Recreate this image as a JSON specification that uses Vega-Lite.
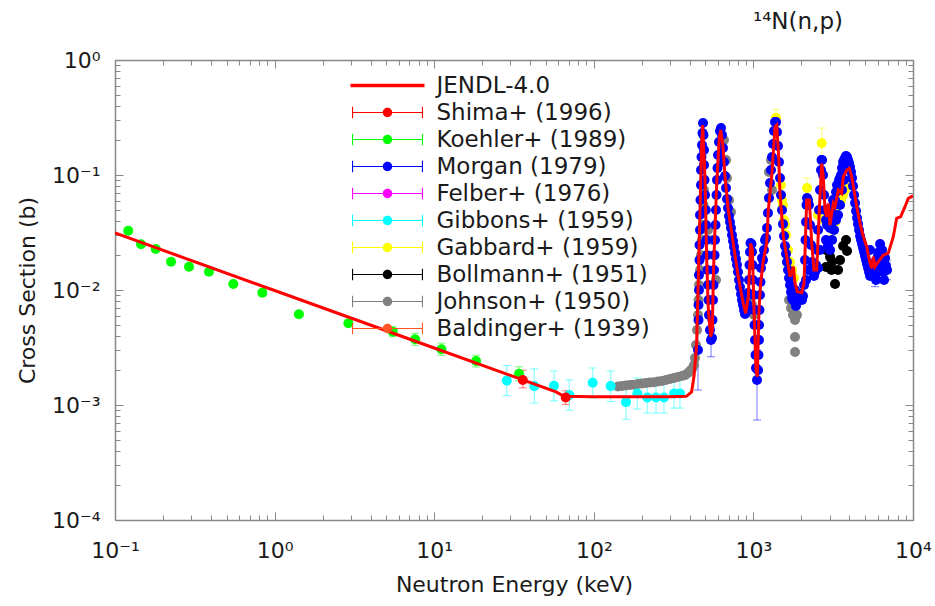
{
"$schema":"https://vega.github.io/schema/vega-lite/v6.json",
"width":798,"height":460,
"autosize":{"type":"none"},
"padding":{"left":115,"top":60,"right":22,"bottom":86},
"background":"white",
"title":{"text":"¹⁴N(n,p)","anchor":"end","frame":"group","dx":-70,"dy":33,"offset":30,"baseline":"alphabetic","font":"DejaVu Sans","fontSize":23,"fontWeight":"normal","color":"#1a1a1a"},
"config":{"view":{"stroke":null}},
"datasets":{
"sets":[{"set":"JENDL-4.0"},{"set":"Shima+ (1996)"},{"set":"Koehler+ (1989)"},{"set":"Morgan (1979)"},{"set":"Felber+ (1976)"},{"set":"Gibbons+ (1959)"},{"set":"Gabbard+ (1959)"},{"set":"Bollmann+ (1951)"},{"set":"Johnson+ (1950)"},{"set":"Baldinger+ (1939)"}],
"jendl":[
{"E":0.1,"xs":0.0313},{"E":1,"xs":0.0099},{"E":10,"xs":0.00313},{"E":30,"xs":0.00181},{"E":58,"xs":0.0013},{"E":65,"xs":0.00119},{"E":100,"xs":0.00118},{"E":200,"xs":0.00118},{"E":300,"xs":0.00118},{"E":380,"xs":0.00119},{"E":410,"xs":0.0013},{"E":424,"xs":0.00176},{"E":435,"xs":0.00263},{"E":441,"xs":0.00346},{"E":452,"xs":0.013},{"E":463,"xs":0.0496},{"E":474,"xs":0.189},{"E":481,"xs":0.272},{"E":497,"xs":0.0966},{"E":510,"xs":0.0182},{"E":522,"xs":0.0067},{"E":540,"xs":0.00393},{"E":553,"xs":0.00449},{"E":561,"xs":0.013},{"E":575,"xs":0.0355},{"E":589,"xs":0.0847},{"E":612,"xs":0.215},{"E":624,"xs":0.246},{"E":642,"xs":0.189},{"E":664,"xs":0.0966},{"E":696,"xs":0.0496},{"E":748,"xs":0.0255},{"E":804,"xs":0.013},{"E":864,"xs":0.00766},{"E":895,"xs":0.00627},{"E":929,"xs":0.00875},{"E":962,"xs":0.0255},{"E":985,"xs":0.0223},{"E":1009,"xs":0.0067},{"E":1038,"xs":0.00201},{"E":1058,"xs":0.00176},{"E":1084,"xs":0.0067},{"E":1108,"xs":0.01105},{"E":1154,"xs":0.0182},{"E":1211,"xs":0.0255},{"E":1240,"xs":0.0496},{"E":1302,"xs":0.0966},{"E":1366,"xs":0.263},{"E":1400,"xs":0.272},{"E":1432,"xs":0.165},{"E":1468,"xs":0.0693},{"E":1540,"xs":0.0291},{"E":1617,"xs":0.0195},{"E":1696,"xs":0.01305},{"E":1779,"xs":0.01595},{"E":1823,"xs":0.01144},{"E":1885,"xs":0.00966},{"E":2008,"xs":0.00947},{"E":2075,"xs":0.01144},{"E":2158,"xs":0.0606},{"E":2241,"xs":0.0606},{"E":2319,"xs":0.0255},{"E":2397,"xs":0.0149},{"E":2492,"xs":0.0149},{"E":2588,"xs":0.0496},{"E":2679,"xs":0.126},{"E":2741,"xs":0.0966},{"E":2810,"xs":0.0496},{"E":2880,"xs":0.0434},{"E":2947,"xs":0.0567},{"E":3020,"xs":0.0367},{"E":3167,"xs":0.0567},{"E":3246,"xs":0.053},{"E":3404,"xs":0.0741},{"E":3576,"xs":0.0693},{"E":3659,"xs":0.0966},{"E":3843,"xs":0.1105},{"E":3991,"xs":0.1144},{"E":4130,"xs":0.0966},{"E":4269,"xs":0.0741},{"E":4439,"xs":0.053},{"E":4656,"xs":0.038},{"E":4883,"xs":0.0291},{"E":5128,"xs":0.0238},{"E":5325,"xs":0.0182},{"E":5511,"xs":0.01545},{"E":5640,"xs":0.0195},{"E":5780,"xs":0.01595},{"E":6061,"xs":0.0176},{"E":6515,"xs":0.0201},{"E":7002,"xs":0.0209},{"E":7526,"xs":0.0291},{"E":7904,"xs":0.042},{"E":8375,"xs":0.0434},{"E":8910,"xs":0.053},{"E":9344,"xs":0.0627},{"E":10000,"xs":0.066}],
"pts":[
{"set":"Johnson+ (1950)","E":141.8,"xs":0.00145},{"set":"Johnson+ (1950)","E":150.2,"xs":0.001463},{"set":"Johnson+ (1950)","E":159.1,"xs":0.00148},{"set":"Johnson+ (1950)","E":168.6,"xs":0.00149},{"set":"Johnson+ (1950)","E":178.6,"xs":0.0015},{"set":"Johnson+ (1950)","E":189.2,"xs":0.001524},{"set":"Johnson+ (1950)","E":200.4,"xs":0.00154},{"set":"Johnson+ (1950)","E":212.3,"xs":0.001553},{"set":"Johnson+ (1950)","E":224.9,"xs":0.00157},{"set":"Johnson+ (1950)","E":238.4,"xs":0.00158},{"set":"Johnson+ (1950)","E":252.6,"xs":0.0016},{"set":"Johnson+ (1950)","E":267.5,"xs":0.001617},{"set":"Johnson+ (1950)","E":283.5,"xs":0.00165},{"set":"Johnson+ (1950)","E":300.2,"xs":0.001683},{"set":"Johnson+ (1950)","E":318.1,"xs":0.001717},{"set":"Johnson+ (1950)","E":337,"xs":0.001752},{"set":"Johnson+ (1950)","E":356.9,"xs":0.001788},{"set":"Johnson+ (1950)","E":372.7,"xs":0.00182},{"set":"Johnson+ (1950)","E":389.2,"xs":0.0019},{"set":"Johnson+ (1950)","E":400.6,"xs":0.001977},{"set":"Johnson+ (1950)","E":412.3,"xs":0.002057},{"set":"Johnson+ (1950)","E":424.4,"xs":0.00223},{"set":"Johnson+ (1950)","E":430.7,"xs":0.00256},{"set":"Johnson+ (1950)","E":436.9,"xs":0.00332},{"set":"Johnson+ (1950)","E":443.3,"xs":0.00449},{"set":"Johnson+ (1950)","E":449.7,"xs":0.00606},{"set":"Johnson+ (1950)","E":453,"xs":0.00819},{"set":"Johnson+ (1950)","E":456.3,"xs":0.01105},{"set":"Johnson+ (1950)","E":462.9,"xs":0.0149},{"set":"Johnson+ (1950)","E":469.6,"xs":0.0201},{"set":"Johnson+ (1950)","E":476.5,"xs":0.0272},{"set":"Johnson+ (1950)","E":483.4,"xs":0.0367},{"set":"Johnson+ (1950)","E":486.9,"xs":0.0548},{"set":"Johnson+ (1950)","E":490.4,"xs":0.0741},{"set":"Johnson+ (1950)","E":504.8,"xs":0.0496},{"set":"Johnson+ (1950)","E":519.6,"xs":0.0332},{"set":"Johnson+ (1950)","E":550.4,"xs":0.0272},{"set":"Johnson+ (1950)","E":566.5,"xs":0.0201},{"set":"Johnson+ (1950)","E":583.1,"xs":0.0122},{"set":"Johnson+ (1950)","E":654.3,"xs":0.2015},{"set":"Johnson+ (1950)","E":673.5,"xs":0.135},{"set":"Johnson+ (1950)","E":683.3,"xs":0.0942},{"set":"Johnson+ (1950)","E":703.3,"xs":0.0606},{"set":"Johnson+ (1950)","E":723.9,"xs":0.0477},{"set":"Johnson+ (1950)","E":911.9,"xs":0.00819},{"set":"Johnson+ (1950)","E":938.6,"xs":0.0067},{"set":"Johnson+ (1950)","E":980.1,"xs":0.00741},{"set":"Johnson+ (1950)","E":1009,"xs":0.00606},{"set":"Johnson+ (1950)","E":1252,"xs":0.1062},{"set":"Johnson+ (1950)","E":1289,"xs":0.135},{"set":"Johnson+ (1950)","E":1308,"xs":0.0741},{"set":"Johnson+ (1950)","E":1672,"xs":0.00819},{"set":"Johnson+ (1950)","E":1721,"xs":0.00697},{"set":"Johnson+ (1950)","E":1771,"xs":0.00606},{"set":"Johnson+ (1950)","E":1823,"xs":0.00548},{"set":"Johnson+ (1950)","E":1876,"xs":0.00606},{"set":"Johnson+ (1950)","E":1823,"xs":0.0039},{"set":"Johnson+ (1950)","E":1823,"xs":0.00289},
{"set":"Bollmann+ (1951)","E":2852,"xs":0.0223},{"set":"Bollmann+ (1951)","E":2852,"xs":0.01585},{"set":"Bollmann+ (1951)","E":3021,"xs":0.0194},{"set":"Bollmann+ (1951)","E":3087,"xs":0.0149},{"set":"Bollmann+ (1951)","E":3110,"xs":0.0175},{"set":"Bollmann+ (1951)","E":3247,"xs":0.01128},{"set":"Bollmann+ (1951)","E":3391,"xs":0.0149},{"set":"Bollmann+ (1951)","E":3490,"xs":0.0182},{"set":"Bollmann+ (1951)","E":3645,"xs":0.0241},{"set":"Bollmann+ (1951)","E":3806,"xs":0.0272},{"set":"Bollmann+ (1951)","E":3861,"xs":0.0218},
{"set":"Gabbard+ (1959)","E":1386,"xs":0.315,"lo":0.27,"hi":0.37},{"set":"Gabbard+ (1959)","E":1489,"xs":0.0819},{"set":"Gabbard+ (1959)","E":1511,"xs":0.0606},{"set":"Gabbard+ (1959)","E":1533,"xs":0.0548},{"set":"Gabbard+ (1959)","E":1555,"xs":0.0406},{"set":"Gabbard+ (1959)","E":1578,"xs":0.0367},{"set":"Gabbard+ (1959)","E":1601,"xs":0.0301},{"set":"Gabbard+ (1959)","E":1648,"xs":0.0223},{"set":"Gabbard+ (1959)","E":1696,"xs":0.0175},{"set":"Gabbard+ (1959)","E":1746,"xs":0.0149},{"set":"Gabbard+ (1959)","E":1797,"xs":0.0127},{"set":"Gabbard+ (1959)","E":2168,"xs":0.0771,"lo":0.0631,"hi":0.094},{"set":"Gabbard+ (1959)","E":2541,"xs":0.0449},{"set":"Gabbard+ (1959)","E":2680,"xs":0.189,"lo":0.141,"hi":0.256},{"set":"Gabbard+ (1959)","E":2771,"xs":0.0406},{"set":"Gabbard+ (1959)","E":3065,"xs":0.0272},{"set":"Gabbard+ (1959)","E":3155,"xs":0.0332},{"set":"Gabbard+ (1959)","E":3247,"xs":0.039},{"set":"Gabbard+ (1959)","E":3342,"xs":0.0449},{"set":"Gabbard+ (1959)","E":3440,"xs":0.0548},{"set":"Gabbard+ (1959)","E":3541,"xs":0.0606},{"set":"Gabbard+ (1959)","E":3645,"xs":0.067},{"set":"Gabbard+ (1959)","E":3751,"xs":0.0741},{"set":"Gabbard+ (1959)","E":3861,"xs":0.0819},
{"set":"Gibbons+ (1959)","E":28.5,"xs":0.00163,"lo":0.00121,"hi":0.0022},{"set":"Gibbons+ (1959)","E":42.4,"xs":0.00146,"lo":0.00104,"hi":0.00206},{"set":"Gibbons+ (1959)","E":56.3,"xs":0.00147,"lo":0.00109,"hi":0.00198},{"set":"Gibbons+ (1959)","E":70.2,"xs":0.00122,"lo":0.0009,"hi":0.00165},{"set":"Gibbons+ (1959)","E":98.4,"xs":0.00156,"lo":0.00115,"hi":0.0021},{"set":"Gibbons+ (1959)","E":127.6,"xs":0.00146,"lo":0.00107,"hi":0.00198},{"set":"Gibbons+ (1959)","E":159.2,"xs":0.00106,"lo":0.00075,"hi":0.00142},{"set":"Gibbons+ (1959)","E":187.4,"xs":0.00126,"lo":0.00092,"hi":0.00172},{"set":"Gibbons+ (1959)","E":216.4,"xs":0.00116,"lo":0.00085,"hi":0.00158},{"set":"Gibbons+ (1959)","E":245.4,"xs":0.00116,"lo":0.00085,"hi":0.00158},{"set":"Gibbons+ (1959)","E":275.3,"xs":0.00116,"lo":0.00085,"hi":0.00158},{"set":"Gibbons+ (1959)","E":318.3,"xs":0.00126,"lo":0.00094,"hi":0.00168},{"set":"Gibbons+ (1959)","E":346.7,"xs":0.00126,"lo":0.00094,"hi":0.00168},
{"set":"Morgan (1979)","E":449.7,"xs":0.00301,"lo":0.00135,"hi":0.0045},{"set":"Morgan (1979)","E":453,"xs":0.00548},{"set":"Morgan (1979)","E":453,"xs":0.00741},{"set":"Morgan (1979)","E":456.3,"xs":0.01},{"set":"Morgan (1979)","E":456.3,"xs":0.0135},{"set":"Morgan (1979)","E":459.6,"xs":0.0182},{"set":"Morgan (1979)","E":459.6,"xs":0.0246},{"set":"Morgan (1979)","E":462.9,"xs":0.0332},{"set":"Morgan (1979)","E":462.9,"xs":0.0449},{"set":"Morgan (1979)","E":466.3,"xs":0.0606},{"set":"Morgan (1979)","E":469.6,"xs":0.0819},{"set":"Morgan (1979)","E":469.6,"xs":0.1105},{"set":"Morgan (1979)","E":473,"xs":0.1434},{"set":"Morgan (1979)","E":476.5,"xs":0.1823},{"set":"Morgan (1979)","E":479.9,"xs":0.2318},{"set":"Morgan (1979)","E":483.4,"xs":0.2833},{"set":"Morgan (1979)","E":486.9,"xs":0.223},{"set":"Morgan (1979)","E":490.4,"xs":0.165},{"set":"Morgan (1979)","E":490.4,"xs":0.122},{"set":"Morgan (1979)","E":494,"xs":0.0905},{"set":"Morgan (1979)","E":497.5,"xs":0.067},{"set":"Morgan (1979)","E":501.1,"xs":0.0496},{"set":"Morgan (1979)","E":504.8,"xs":0.0367},{"set":"Morgan (1979)","E":508.4,"xs":0.0272},{"set":"Morgan (1979)","E":512.1,"xs":0.0201},{"set":"Morgan (1979)","E":515.8,"xs":0.0149},{"set":"Morgan (1979)","E":519.6,"xs":0.01105},{"set":"Morgan (1979)","E":523.3,"xs":0.00819},{"set":"Morgan (1979)","E":527.1,"xs":0.00606},{"set":"Morgan (1979)","E":534.7,"xs":0.00449},{"set":"Morgan (1979)","E":542.5,"xs":0.00367,"lo":0.00263,"hi":0.0048},{"set":"Morgan (1979)","E":550.4,"xs":0.00383},{"set":"Morgan (1979)","E":554.4,"xs":0.00548},{"set":"Morgan (1979)","E":558.4,"xs":0.00819},{"set":"Morgan (1979)","E":562.4,"xs":0.01105},{"set":"Morgan (1979)","E":566.5,"xs":0.0149},{"set":"Morgan (1979)","E":570.6,"xs":0.0201},{"set":"Morgan (1979)","E":574.7,"xs":0.0272},{"set":"Morgan (1979)","E":578.9,"xs":0.0367},{"set":"Morgan (1979)","E":583.1,"xs":0.0496},{"set":"Morgan (1979)","E":587.3,"xs":0.067},{"set":"Morgan (1979)","E":591.5,"xs":0.0905},{"set":"Morgan (1979)","E":595.8,"xs":0.115},{"set":"Morgan (1979)","E":600.1,"xs":0.149},{"set":"Morgan (1979)","E":608.8,"xs":0.1936},{"set":"Morgan (1979)","E":617.7,"xs":0.2413},{"set":"Morgan (1979)","E":626.6,"xs":0.2563},{"set":"Morgan (1979)","E":635.7,"xs":0.223},{"set":"Morgan (1979)","E":645,"xs":0.1717},{"set":"Morgan (1979)","E":654.3,"xs":0.1298},{"set":"Morgan (1979)","E":663.9,"xs":0.098},{"set":"Morgan (1979)","E":673.5,"xs":0.0771},{"set":"Morgan (1979)","E":683.3,"xs":0.0618},{"set":"Morgan (1979)","E":693.2,"xs":0.0516},{"set":"Morgan (1979)","E":703.3,"xs":0.044},{"set":"Morgan (1979)","E":713.5,"xs":0.039},{"set":"Morgan (1979)","E":723.9,"xs":0.0346},{"set":"Morgan (1979)","E":734.4,"xs":0.0301},{"set":"Morgan (1979)","E":745.1,"xs":0.0267},{"set":"Morgan (1979)","E":755.9,"xs":0.0237},{"set":"Morgan (1979)","E":766.9,"xs":0.021},{"set":"Morgan (1979)","E":778,"xs":0.0186},{"set":"Morgan (1979)","E":789.3,"xs":0.0165},{"set":"Morgan (1979)","E":800.8,"xs":0.01434},{"set":"Morgan (1979)","E":812.5,"xs":0.0122},{"set":"Morgan (1979)","E":824.3,"xs":0.0106},{"set":"Morgan (1979)","E":836.3,"xs":0.00923},{"set":"Morgan (1979)","E":848.4,"xs":0.00819},{"set":"Morgan (1979)","E":860.7,"xs":0.00741},{"set":"Morgan (1979)","E":873.2,"xs":0.0067},{"set":"Morgan (1979)","E":885.9,"xs":0.00618},{"set":"Morgan (1979)","E":898.8,"xs":0.00644},{"set":"Morgan (1979)","E":911.9,"xs":0.00755},{"set":"Morgan (1979)","E":925.1,"xs":0.00942},{"set":"Morgan (1979)","E":938.6,"xs":0.0122},{"set":"Morgan (1979)","E":945.4,"xs":0.0165},{"set":"Morgan (1979)","E":952.2,"xs":0.0214},{"set":"Morgan (1979)","E":959.1,"xs":0.0256},{"set":"Morgan (1979)","E":973,"xs":0.0251},{"set":"Morgan (1979)","E":980.1,"xs":0.0214},{"set":"Morgan (1979)","E":987.2,"xs":0.0165},{"set":"Morgan (1979)","E":994.3,"xs":0.0122},{"set":"Morgan (1979)","E":1001.5,"xs":0.00905},{"set":"Morgan (1979)","E":1008.8,"xs":0.0067},{"set":"Morgan (1979)","E":1016.1,"xs":0.00496},{"set":"Morgan (1979)","E":1023.4,"xs":0.00367},{"set":"Morgan (1979)","E":1030.8,"xs":0.00272},{"set":"Morgan (1979)","E":1038.3,"xs":0.0021},{"set":"Morgan (1979)","E":1053.4,"xs":0.00165,"lo":0.00074,"hi":0.00301},{"set":"Morgan (1979)","E":1068.7,"xs":0.00201},{"set":"Morgan (1979)","E":1076.4,"xs":0.00272},{"set":"Morgan (1979)","E":1084.2,"xs":0.00367},{"set":"Morgan (1979)","E":1084.2,"xs":0.00496},{"set":"Morgan (1979)","E":1092,"xs":0.0067},{"set":"Morgan (1979)","E":1100,"xs":0.00905},{"set":"Morgan (1979)","E":1108,"xs":0.01174},{"set":"Morgan (1979)","E":1116,"xs":0.01553},{"set":"Morgan (1979)","E":1132,"xs":0.019},{"set":"Morgan (1979)","E":1149,"xs":0.0182},{"set":"Morgan (1979)","E":1165,"xs":0.0223},{"set":"Morgan (1979)","E":1182,"xs":0.0272},{"set":"Morgan (1979)","E":1199,"xs":0.0283},{"set":"Morgan (1979)","E":1217,"xs":0.0346},{"set":"Morgan (1979)","E":1234,"xs":0.0467},{"set":"Morgan (1979)","E":1252,"xs":0.0631},{"set":"Morgan (1979)","E":1271,"xs":0.0852},{"set":"Morgan (1979)","E":1289,"xs":0.1105},{"set":"Morgan (1979)","E":1308,"xs":0.1434},{"set":"Morgan (1979)","E":1327,"xs":0.186},{"set":"Morgan (1979)","E":1346,"xs":0.2413},{"set":"Morgan (1979)","E":1366,"xs":0.289},{"set":"Morgan (1979)","E":1386,"xs":0.289},{"set":"Morgan (1979)","E":1406,"xs":0.2365},{"set":"Morgan (1979)","E":1426,"xs":0.1788},{"set":"Morgan (1979)","E":1447,"xs":0.1298},{"set":"Morgan (1979)","E":1468,"xs":0.0942},{"set":"Morgan (1979)","E":1489,"xs":0.067},{"set":"Morgan (1979)","E":1511,"xs":0.0496},{"set":"Morgan (1979)","E":1533,"xs":0.0375},{"set":"Morgan (1979)","E":1555,"xs":0.0295},{"set":"Morgan (1979)","E":1578,"xs":0.0241},{"set":"Morgan (1979)","E":1601,"xs":0.0206},{"set":"Morgan (1979)","E":1624,"xs":0.0175},{"set":"Morgan (1979)","E":1648,"xs":0.0149},{"set":"Morgan (1979)","E":1672,"xs":0.0127},{"set":"Morgan (1979)","E":1696,"xs":0.01105},{"set":"Morgan (1979)","E":1721,"xs":0.00961},{"set":"Morgan (1979)","E":1746,"xs":0.00852},{"set":"Morgan (1979)","E":1771,"xs":0.00819},{"set":"Morgan (1979)","E":1797,"xs":0.00887},{"set":"Morgan (1979)","E":1823,"xs":0.00787},{"set":"Morgan (1979)","E":1849,"xs":0.00726},{"set":"Morgan (1979)","E":1876,"xs":0.00787},{"set":"Morgan (1979)","E":1904,"xs":0.00887},{"set":"Morgan (1979)","E":1931,"xs":0.00819},{"set":"Morgan (1979)","E":1959,"xs":0.00852},{"set":"Morgan (1979)","E":1988,"xs":0.00923},{"set":"Morgan (1979)","E":2017,"xs":0.00819},{"set":"Morgan (1979)","E":2046,"xs":0.00887},{"set":"Morgan (1979)","E":2076,"xs":0.01105},{"set":"Morgan (1979)","E":2106,"xs":0.0182},{"set":"Morgan (1979)","E":2121,"xs":0.0272},{"set":"Morgan (1979)","E":2137,"xs":0.039},{"set":"Morgan (1979)","E":2152,"xs":0.0548},{"set":"Morgan (1979)","E":2168,"xs":0.0631},{"set":"Morgan (1979)","E":2199,"xs":0.0606},{"set":"Morgan (1979)","E":2231,"xs":0.0548},{"set":"Morgan (1979)","E":2263,"xs":0.0367},{"set":"Morgan (1979)","E":2296,"xs":0.0246},{"set":"Morgan (1979)","E":2330,"xs":0.0175},{"set":"Morgan (1979)","E":2364,"xs":0.01434},{"set":"Morgan (1979)","E":2398,"xs":0.01324},{"set":"Morgan (1979)","E":2433,"xs":0.01434},{"set":"Morgan (1979)","E":2468,"xs":0.0165},{"set":"Morgan (1979)","E":2504,"xs":0.0223},{"set":"Morgan (1979)","E":2541,"xs":0.0332},{"set":"Morgan (1979)","E":2578,"xs":0.0496},{"set":"Morgan (1979)","E":2615,"xs":0.0741},{"set":"Morgan (1979)","E":2653,"xs":0.1105},{"set":"Morgan (1979)","E":2672,"xs":0.135},{"set":"Morgan (1979)","E":2692,"xs":0.135},{"set":"Morgan (1979)","E":2731,"xs":0.1},{"set":"Morgan (1979)","E":2771,"xs":0.067},{"set":"Morgan (1979)","E":2811,"xs":0.0496},{"set":"Morgan (1979)","E":2852,"xs":0.0406},{"set":"Morgan (1979)","E":2893,"xs":0.0367},{"set":"Morgan (1979)","E":2935,"xs":0.0496},{"set":"Morgan (1979)","E":2978,"xs":0.0449},{"set":"Morgan (1979)","E":3021,"xs":0.0346},{"set":"Morgan (1979)","E":3065,"xs":0.0367},{"set":"Morgan (1979)","E":3110,"xs":0.0477},{"set":"Morgan (1979)","E":3155,"xs":0.0606},{"set":"Morgan (1979)","E":3201,"xs":0.0548},{"set":"Morgan (1979)","E":3247,"xs":0.0606},{"set":"Morgan (1979)","E":3294,"xs":0.0711},{"set":"Morgan (1979)","E":3342,"xs":0.0819},{"set":"Morgan (1979)","E":3391,"xs":0.0771},{"set":"Morgan (1979)","E":3440,"xs":0.0905},{"set":"Morgan (1979)","E":3490,"xs":0.0942},{"set":"Morgan (1979)","E":3541,"xs":0.1},{"set":"Morgan (1979)","E":3592,"xs":0.115},{"set":"Morgan (1979)","E":3645,"xs":0.1298},{"set":"Morgan (1979)","E":3697,"xs":0.135},{"set":"Morgan (1979)","E":3751,"xs":0.1406},{"set":"Morgan (1979)","E":3806,"xs":0.1462},{"set":"Morgan (1979)","E":3861,"xs":0.1434},{"set":"Morgan (1979)","E":3917,"xs":0.135},{"set":"Morgan (1979)","E":3974,"xs":0.1272},{"set":"Morgan (1979)","E":4032,"xs":0.1174},{"set":"Morgan (1979)","E":4091,"xs":0.1062},{"set":"Morgan (1979)","E":4150,"xs":0.0942},{"set":"Morgan (1979)","E":4210,"xs":0.0802},{"set":"Morgan (1979)","E":4272,"xs":0.067},{"set":"Morgan (1979)","E":4334,"xs":0.0571},{"set":"Morgan (1979)","E":4397,"xs":0.0486},{"set":"Morgan (1979)","E":4461,"xs":0.0423},{"set":"Morgan (1979)","E":4525,"xs":0.0375},{"set":"Morgan (1979)","E":4591,"xs":0.0332},{"set":"Morgan (1979)","E":4658,"xs":0.0295},{"set":"Morgan (1979)","E":4726,"xs":0.0272},{"set":"Morgan (1979)","E":4795,"xs":0.0251},{"set":"Morgan (1979)","E":4864,"xs":0.0232},{"set":"Morgan (1979)","E":4935,"xs":0.0214},{"set":"Morgan (1979)","E":5007,"xs":0.0198},{"set":"Morgan (1979)","E":5080,"xs":0.0182},{"set":"Morgan (1979)","E":5153,"xs":0.0168},{"set":"Morgan (1979)","E":5228,"xs":0.01553},{"set":"Morgan (1979)","E":5304,"xs":0.01434},{"set":"Morgan (1979)","E":5381,"xs":0.01324},{"set":"Morgan (1979)","E":5460,"xs":0.01434},{"set":"Morgan (1979)","E":5539,"xs":0.01553},{"set":"Morgan (1979)","E":5620,"xs":0.0168},{"set":"Morgan (1979)","E":5701,"xs":0.01434},{"set":"Morgan (1979)","E":5784,"xs":0.01324,"lo":0.0107,"hi":0.0165},{"set":"Morgan (1979)","E":5868,"xs":0.0149},{"set":"Morgan (1979)","E":5954,"xs":0.0175},{"set":"Morgan (1979)","E":6040,"xs":0.0198},{"set":"Morgan (1979)","E":6128,"xs":0.0214},{"set":"Morgan (1979)","E":6217,"xs":0.019},{"set":"Morgan (1979)","E":6307,"xs":0.0175},{"set":"Morgan (1979)","E":6399,"xs":0.01553},{"set":"Morgan (1979)","E":6492,"xs":0.01434},{"set":"Morgan (1979)","E":6587,"xs":0.0175},{"set":"Morgan (1979)","E":6682,"xs":0.019},{"set":"Morgan (1979)","E":6780,"xs":0.0162},{"set":"Morgan (1979)","E":6878,"xs":0.0149,"lo":0.0123,"hi":0.018},{"set":"Morgan (1979)","E":2852,"xs":0.0272},{"set":"Morgan (1979)","E":2935,"xs":0.0246},{"set":"Morgan (1979)","E":3021,"xs":0.0223},{"set":"Morgan (1979)","E":3110,"xs":0.0272},{"set":"Morgan (1979)","E":3201,"xs":0.0332},{"set":"Morgan (1979)","E":3294,"xs":0.0406},{"set":"Morgan (1979)","E":3391,"xs":0.0449},{"set":"Morgan (1979)","E":3490,"xs":0.0548},{"set":"Morgan (1979)","E":3592,"xs":0.0741},{"set":"Morgan (1979)","E":3697,"xs":0.0905},{"set":"Morgan (1979)","E":2615,"xs":0.0223},{"set":"Morgan (1979)","E":2541,"xs":0.01553},{"set":"Morgan (1979)","E":2137,"xs":0.0122},{"set":"Morgan (1979)","E":2199,"xs":0.0149},{"set":"Morgan (1979)","E":1823,"xs":0.01},{"set":"Morgan (1979)","E":5381,"xs":0.0223},{"set":"Morgan (1979)","E":5868,"xs":0.0122},{"set":"Morgan (1979)","E":6399,"xs":0.0223},{"set":"Morgan (1979)","E":6587,"xs":0.0122},{"set":"Morgan (1979)","E":6217,"xs":0.0251},
{"set":"Koehler+ (1989)","E":0.121,"xs":0.0328},{"set":"Koehler+ (1989)","E":0.1456,"xs":0.025},{"set":"Koehler+ (1989)","E":0.18,"xs":0.0227},{"set":"Koehler+ (1989)","E":0.2244,"xs":0.0176},{"set":"Koehler+ (1989)","E":0.291,"xs":0.01595},{"set":"Koehler+ (1989)","E":0.388,"xs":0.01443},{"set":"Koehler+ (1989)","E":0.551,"xs":0.01128},{"set":"Koehler+ (1989)","E":0.838,"xs":0.00947},{"set":"Koehler+ (1989)","E":1.42,"xs":0.00615},{"set":"Koehler+ (1989)","E":2.9,"xs":0.00513},{"set":"Koehler+ (1989)","E":5.5,"xs":0.00434,"lo":0.00393,"hi":0.0048},{"set":"Koehler+ (1989)","E":7.59,"xs":0.00373,"lo":0.0033,"hi":0.0042},{"set":"Koehler+ (1989)","E":11.1,"xs":0.00305,"lo":0.0027,"hi":0.00345},{"set":"Koehler+ (1989)","E":18.3,"xs":0.00241,"lo":0.00214,"hi":0.00271},{"set":"Koehler+ (1989)","E":34,"xs":0.00187,"lo":0.00163,"hi":0.00215},
{"set":"Shima+ (1996)","E":35.9,"xs":0.00165,"lo":0.00141,"hi":0.00201},{"set":"Shima+ (1996)","E":66.7,"xs":0.00116,"lo":0.00101,"hi":0.00133}
]},
"encoding":{
"x":{"field":"E","type":"quantitative","scale":{"type":"log","domain":[0.1,10000],"nice":false},"axis":null},
"y":{"field":"xs","type":"quantitative","scale":{"type":"log","domain":[0.0001,1],"nice":false},"axis":null}
},
"layer":[
{"data":{"name":"sets"},
 "transform":[{"filter":"false"}],
 "mark":{"type":"point","filled":true,"opacity":0},
 "encoding":{
  "color":{"field":"set","type":"nominal","scale":{"domain":["JENDL-4.0","Shima+ (1996)","Koehler+ (1989)","Morgan (1979)","Felber+ (1976)","Gibbons+ (1959)","Gabbard+ (1959)","Bollmann+ (1951)","Johnson+ (1950)","Baldinger+ (1939)"],"range":["#ff0000","#ff0000","#00ff00","#0000ff","#ff00ff","#00ffff","#ffff00","#000000","#808080","#ff5522"]},
   "legend":{"orient":"none","legendX":225.5,"legendY":14,"title":null,"labelFont":"DejaVu Sans","labelFontSize":23,"labelColor":"#1a1a1a","symbolSize":400,"symbolOffset":35.5,"symbolStrokeWidth":0,"symbolOpacity":1,"rowPadding":3,"labelOffset":37.5,"padding":0,"labelLimit":400}},
  "shape":{"field":"set","type":"nominal","scale":{"domain":["JENDL-4.0","Shima+ (1996)","Koehler+ (1989)","Morgan (1979)","Felber+ (1976)","Gibbons+ (1959)","Gabbard+ (1959)","Bollmann+ (1951)","Johnson+ (1950)","Baldinger+ (1939)"],"range":["M-3.7,-0.165H3.7V0.165H-3.7Z","M-3.55,-0.06H3.55V0.06H-3.55ZM-3.55,-0.57H-3.44V0.57H-3.55ZM3.44,-0.57H3.55V0.57H3.44ZM0.47,0A0.47,0.47,0,1,1,-0.47,0A0.47,0.47,0,1,1,0.47,0Z","M-3.55,-0.06H3.55V0.06H-3.55ZM-3.55,-0.57H-3.44V0.57H-3.55ZM3.44,-0.57H3.55V0.57H3.44ZM0.47,0A0.47,0.47,0,1,1,-0.47,0A0.47,0.47,0,1,1,0.47,0Z","M-3.55,-0.06H3.55V0.06H-3.55ZM-3.55,-0.57H-3.44V0.57H-3.55ZM3.44,-0.57H3.55V0.57H3.44ZM0.47,0A0.47,0.47,0,1,1,-0.47,0A0.47,0.47,0,1,1,0.47,0Z","M-3.55,-0.06H3.55V0.06H-3.55ZM-3.55,-0.57H-3.44V0.57H-3.55ZM3.44,-0.57H3.55V0.57H3.44ZM0.47,0A0.47,0.47,0,1,1,-0.47,0A0.47,0.47,0,1,1,0.47,0Z","M-3.55,-0.06H3.55V0.06H-3.55ZM-3.55,-0.57H-3.44V0.57H-3.55ZM3.44,-0.57H3.55V0.57H3.44ZM0.47,0A0.47,0.47,0,1,1,-0.47,0A0.47,0.47,0,1,1,0.47,0Z","M-3.55,-0.06H3.55V0.06H-3.55ZM-3.55,-0.57H-3.44V0.57H-3.55ZM3.44,-0.57H3.55V0.57H3.44ZM0.47,0A0.47,0.47,0,1,1,-0.47,0A0.47,0.47,0,1,1,0.47,0Z","M-3.55,-0.06H3.55V0.06H-3.55ZM-3.55,-0.57H-3.44V0.57H-3.55ZM3.44,-0.57H3.55V0.57H3.44ZM0.47,0A0.47,0.47,0,1,1,-0.47,0A0.47,0.47,0,1,1,0.47,0Z","M-3.55,-0.06H3.55V0.06H-3.55ZM-3.55,-0.57H-3.44V0.57H-3.55ZM3.44,-0.57H3.55V0.57H3.44ZM0.47,0A0.47,0.47,0,1,1,-0.47,0A0.47,0.47,0,1,1,0.47,0Z","M-3.55,-0.06H3.55V0.06H-3.55ZM-3.55,-0.57H-3.44V0.57H-3.55ZM3.44,-0.57H3.55V0.57H3.44ZM0.47,0A0.47,0.47,0,1,1,-0.47,0A0.47,0.47,0,1,1,0.47,0Z","M-3.55,-0.06H3.55V0.06H-3.55ZM-3.55,-0.57H-3.44V0.57H-3.55ZM3.44,-0.57H3.55V0.57H3.44ZM0.47,0A0.47,0.47,0,1,1,-0.47,0A0.47,0.47,0,1,1,0.47,0Z"]},
   "legend":{"orient":"none","legendX":225.5,"legendY":14,"title":null,"labelFont":"DejaVu Sans","labelFontSize":23,"labelColor":"#1a1a1a","symbolSize":400,"symbolOffset":35.5,"symbolStrokeWidth":0,"symbolOpacity":1,"rowPadding":3,"labelOffset":37.5,"padding":0,"labelLimit":400}}
 }},
{"data":{"name":"pts"},
 "transform":[{"filter":"isValid(datum.lo)"}],
 "mark":{"type":"rule","opacity":0.45,"strokeWidth":1.2},
 "encoding":{
  "y":{"field":"lo","type":"quantitative","scale":{"type":"log","domain":[0.0001,1],"nice":false},"axis":null},
  "y2":{"field":"hi"},
  "color":{"field":"set","type":"nominal","scale":{"domain":["JENDL-4.0","Shima+ (1996)","Koehler+ (1989)","Morgan (1979)","Felber+ (1976)","Gibbons+ (1959)","Gabbard+ (1959)","Bollmann+ (1951)","Johnson+ (1950)","Baldinger+ (1939)"],"range":["#ff0000","#ff0000","#00ff00","#0000ff","#ff00ff","#00ffff","#ffff00","#000000","#808080","#ff5522"]},"legend":null}
 }},
{"data":{"name":"pts"},
 "transform":[{"filter":"isValid(datum.lo)"}],
 "mark":{"type":"tick","orient":"horizontal","size":8,"thickness":1.2,"opacity":0.45},
 "encoding":{
  "y":{"field":"lo","type":"quantitative","scale":{"type":"log","domain":[0.0001,1],"nice":false},"axis":null},
  "color":{"field":"set","type":"nominal","scale":{"domain":["JENDL-4.0","Shima+ (1996)","Koehler+ (1989)","Morgan (1979)","Felber+ (1976)","Gibbons+ (1959)","Gabbard+ (1959)","Bollmann+ (1951)","Johnson+ (1950)","Baldinger+ (1939)"],"range":["#ff0000","#ff0000","#00ff00","#0000ff","#ff00ff","#00ffff","#ffff00","#000000","#808080","#ff5522"]},"legend":null}
 }},
{"data":{"name":"pts"},
 "transform":[{"filter":"isValid(datum.hi)"}],
 "mark":{"type":"tick","orient":"horizontal","size":8,"thickness":1.2,"opacity":0.45},
 "encoding":{
  "y":{"field":"hi","type":"quantitative","scale":{"type":"log","domain":[0.0001,1],"nice":false},"axis":null},
  "color":{"field":"set","type":"nominal","scale":{"domain":["JENDL-4.0","Shima+ (1996)","Koehler+ (1989)","Morgan (1979)","Felber+ (1976)","Gibbons+ (1959)","Gabbard+ (1959)","Bollmann+ (1951)","Johnson+ (1950)","Baldinger+ (1939)"],"range":["#ff0000","#ff0000","#00ff00","#0000ff","#ff00ff","#00ffff","#ffff00","#000000","#808080","#ff5522"]},"legend":null}
 }},
{"data":{"name":"pts"},
 "mark":{"type":"point","filled":true,"size":100,"opacity":1},
 "encoding":{
  "x":{"field":"E","type":"quantitative","scale":{"type":"log","domain":[0.1,10000],"nice":false},
   "axis":{"orient":"top","values":[0.1,0.2,0.3,0.4,0.5,0.6,0.7,0.8,0.9,1,2,3,4,5,6,7,8,9,10,20,30,40,50,60,70,80,90,100,200,300,400,500,600,700,800,900,1000,2000,3000,4000,5000,6000,7000,8000,9000,10000],"labels":false,"title":null,"grid":false,"domainColor":"#888888","domainWidth":1.5,"tickColor":"#888888","tickWidth":1,
    "tickSize":{"condition":{"test":"indexof([0.1,1,10,100,1000,10000], datum.value) >= 0","value":-8},"value":-5}}},
  "y":{"field":"xs","type":"quantitative","scale":{"type":"log","domain":[0.0001,1],"nice":false},
   "axis":{"orient":"right","values":[0.0001,0.0002,0.0003,0.0004,0.0005,0.0006,0.0007,0.0008,0.0009,0.001,0.002,0.003,0.004,0.005,0.006,0.007,0.008,0.009,0.01,0.02,0.03,0.04,0.05,0.06,0.07,0.08,0.09,0.1,0.2,0.3,0.4,0.5,0.6,0.7,0.8,0.9,1],"labels":false,"title":null,"grid":false,"domainColor":"#888888","domainWidth":1.5,"tickColor":"#888888","tickWidth":1,
    "tickSize":{"condition":{"test":"indexof([0.0001,0.001,0.01,0.1,1], datum.value) >= 0","value":-8},"value":-5}}},
  "color":{"field":"set","type":"nominal","scale":{"domain":["JENDL-4.0","Shima+ (1996)","Koehler+ (1989)","Morgan (1979)","Felber+ (1976)","Gibbons+ (1959)","Gabbard+ (1959)","Bollmann+ (1951)","Johnson+ (1950)","Baldinger+ (1939)"],"range":["#ff0000","#ff0000","#00ff00","#0000ff","#ff00ff","#00ffff","#ffff00","#000000","#808080","#ff5522"]},"legend":null}
 }},
{"data":{"name":"jendl"},
 "mark":{"type":"line","color":"#ff0000","strokeWidth":3,"clip":true},
 "encoding":{
  "x":{"field":"E","type":"quantitative","scale":{"type":"log","domain":[0.1,10000],"nice":false},
   "axis":{"orient":"bottom","values":[0.1,0.2,0.3,0.4,0.5,0.6,0.7,0.8,0.9,1,2,3,4,5,6,7,8,9,10,20,30,40,50,60,70,80,90,100,200,300,400,500,600,700,800,900,1000,2000,3000,4000,5000,6000,7000,8000,9000,10000],
    "labelExpr":"datum.value == 0.1 ? '10⁻¹' : datum.value == 1 ? '10⁰' : datum.value == 10 ? '10¹' : datum.value == 100 ? '10²' : datum.value == 1000 ? '10³' : datum.value == 10000 ? '10⁴' : ''",
    "labelFont":"DejaVu Sans","labelFontSize":22,"labelColor":"#1a1a1a","labelPadding":28,"labelFlush":false,"labelOverlap":false,"grid":false,
    "domainColor":"#888888","domainWidth":1.5,"tickColor":"#888888","tickWidth":1,
    "tickSize":{"condition":{"test":"indexof([0.1,1,10,100,1000,10000], datum.value) >= 0","value":-8},"value":-5},
    "title":"Neutron Energy (keV)","titleFont":"DejaVu Sans","titleFontSize":22,"titleFontWeight":"normal","titleColor":"#1a1a1a","titlePadding":10}},
  "y":{"field":"xs","type":"quantitative","scale":{"type":"log","domain":[0.0001,1],"nice":false},
   "axis":{"orient":"left","values":[0.0001,0.0002,0.0003,0.0004,0.0005,0.0006,0.0007,0.0008,0.0009,0.001,0.002,0.003,0.004,0.005,0.006,0.007,0.008,0.009,0.01,0.02,0.03,0.04,0.05,0.06,0.07,0.08,0.09,0.1,0.2,0.3,0.4,0.5,0.6,0.7,0.8,0.9,1],
    "labelExpr":"datum.value == 0.0001 ? '10⁻⁴' : datum.value == 0.001 ? '10⁻³' : datum.value == 0.01 ? '10⁻²' : datum.value == 0.1 ? '10⁻¹' : datum.value == 1 ? '10⁰' : ''",
    "labelFont":"DejaVu Sans","labelFontSize":22,"labelColor":"#1a1a1a","labelPadding":23,"labelOverlap":false,"labelFlush":false,"grid":false,
    "domainColor":"#888888","domainWidth":1.5,"tickColor":"#888888","tickWidth":1,
    "tickSize":{"condition":{"test":"indexof([0.0001,0.001,0.01,0.1,1], datum.value) >= 0","value":-8},"value":-5},
    "title":"Cross Section (b)","titleFont":"DejaVu Sans","titleFontSize":22,"titleFontWeight":"normal","titleColor":"#1a1a1a","titlePadding":12}}
 }}
],
"resolve":{"axis":{"x":"independent","y":"independent"}}
}
